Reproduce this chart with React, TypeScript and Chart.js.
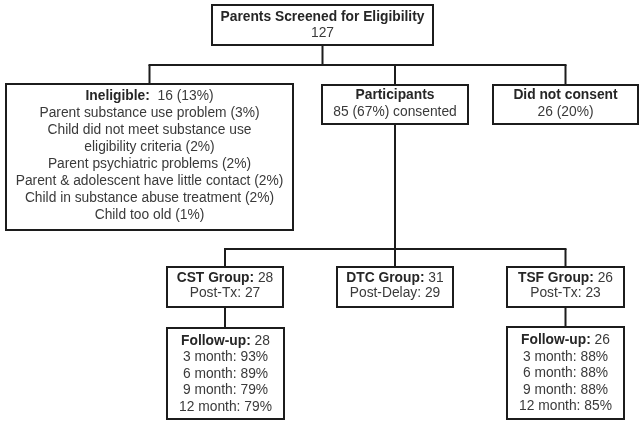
import React, { useEffect, useRef } from "react";
import { Chart, registerables } from "chart.js";

Chart.register(...registerables);

// ---------- data ----------
const screenedTotal = 127;
const ineligibleCount = 16;
const ineligiblePct = 13;
const ineligibleReasons = [
  "Parent substance use problem",
  "Child did not meet substance use\neligibility criteria",
  "Parent psychiatric problems",
  "Parent & adolescent have little contact",
  "Child in substance abuse treatment",
  "Child too old",
];
const ineligibleReasonPcts = [3, 2, 2, 2, 2, 1];
const participantsCount = 85;
const participantsPct = 67;
const notConsentCount = 26;
const notConsentPct = 20;
const groupNames = ["CST", "DTC", "TSF"];
const groupCounts = [28, 31, 26];
const postLabels = ["Post-Tx", "Post-Delay", "Post-Tx"];
const postCounts = [27, 29, 23];
const followMonths = [3, 6, 9, 12];
const cstFollowCount = 28;
const cstFollowPcts = [93, 89, 79, 79];
const tsfFollowCount = 26;
const tsfFollowPcts = [88, 88, 88, 85];

// ---------- layout (positions only) ----------
type Seg = { t: string; b?: boolean };
type Node = { id: string; x: number; y: number; w: number; h: number; dy: number; lh: number; lines: Seg[][] };

const LINE_COLOR = "#1c1c1c";
const TEXT_COLOR = "#3a3a3a";
const BOLD_COLOR = "#262626";
const FONT_SIZE = 13.8;
const FAMILY = "'Liberation Sans', Arial, Helvetica, sans-serif";

const reasonLines: Seg[][] = [];
ineligibleReasons.forEach((r, i) => {
  const parts = r.split("\n");
  parts.forEach((p, j) => {
    reasonLines.push([{ t: j === parts.length - 1 ? `${p} (${ineligibleReasonPcts[i]}%)` : p }]);
  });
});

const followLines = (n: number, pcts: number[]): Seg[][] => [
  [{ t: "Follow-up:", b: true }, { t: ` ${n}` }],
  ...pcts.map((p, i) => [{ t: `${followMonths[i]} month: ${p}%` }]),
];

const groupBoxX = [167, 337, 507];
const groupBoxW = [116, 116, 117];

const nodes: Node[] = [
  { id: "top", x: 212, y: 5, w: 221, h: 40, dy: 0, lh: 16, lines: [[{ t: "Parents Screened for Eligibility", b: true }], [{ t: `${screenedTotal}` }]] },
  { id: "inel", x: 6, y: 84, w: 287, h: 146, dy: -1.5, lh: 17, lines: [[{ t: "Ineligible:", b: true }, { t: `  ${ineligibleCount} (${ineligiblePct}%)` }], ...reasonLines] },
  { id: "part", x: 322, y: 85, w: 146, h: 39, dy: -1, lh: 17, lines: [[{ t: "Participants", b: true }], [{ t: `${participantsCount} (${participantsPct}%) consented` }]] },
  { id: "dnc", x: 493, y: 85, w: 145, h: 39, dy: -1, lh: 17, lines: [[{ t: "Did not consent", b: true }], [{ t: `${notConsentCount} (${notConsentPct}%)` }]] },
  ...groupNames.map((g, i) => ({
    id: g,
    x: groupBoxX[i], y: 267, w: groupBoxW[i], h: 40, dy: -1.5, lh: 15.5,
    lines: [[{ t: `${g} Group:`, b: true }, { t: ` ${groupCounts[i]}` }], [{ t: `${postLabels[i]}: ${postCounts[i]}` }]],
  })),
  { id: "cstF", x: 167, y: 328, w: 117, h: 91, dy: 0.5, lh: 16.5, lines: followLines(cstFollowCount, cstFollowPcts) },
  { id: "tsfF", x: 507, y: 327, w: 117, h: 92, dy: 0.5, lh: 16.5, lines: followLines(tsfFollowCount, tsfFollowPcts) },
];

const edges: { from: string; to: string[]; bus: number }[] = [
  { from: "top", to: ["inel", "part", "dnc"], bus: 65 },
  { from: "part", to: ["CST", "DTC", "TSF"], bus: 249 },
  { from: "CST", to: ["cstF"], bus: -1 },
  { from: "TSF", to: ["tsfF"], bus: -1 },
];

const byId = (id: string) => nodes.find((n) => n.id === id)!;
const cx = (n: Node) => n.x + n.w / 2;

function buildSegments(): { x: number; y: number }[][] {
  const segs: { x: number; y: number }[][] = [];
  edges.forEach((e) => {
    const p = byId(e.from);
    const kids = e.to.map(byId);
    if (e.bus < 0) {
      const k = kids[0];
      segs.push([{ x: cx(p), y: p.y + p.h }, { x: cx(p), y: k.y }]);
      return;
    }
    segs.push([{ x: cx(p), y: p.y + p.h }, { x: cx(p), y: e.bus }]);
    const xs = kids.map(cx);
    segs.push([{ x: Math.min(...xs) - 1, y: e.bus }, { x: Math.max(...xs) + 1, y: e.bus }]);
    kids.forEach((k) => segs.push([{ x: cx(k), y: e.bus }, { x: cx(k), y: k.y }]));
  });
  return segs;
}

const fontFor = (b?: boolean) => `${b ? "bold " : ""}${FONT_SIZE}px ${FAMILY}`;

const boxPlugin = {
  id: "flowBoxes",
  afterDatasetsDraw(chart: any) {
    const { ctx, scales } = chart;
    const xs = scales.x;
    const ys = scales.y;
    ctx.save();
    nodes.forEach((n) => {
      const x0 = xs.getPixelForValue(n.x);
      const x1 = xs.getPixelForValue(n.x + n.w);
      const y0 = ys.getPixelForValue(n.y);
      const y1 = ys.getPixelForValue(n.y + n.h);
      ctx.fillStyle = "#ffffff";
      ctx.fillRect(x0, y0, x1 - x0, y1 - y0);
      ctx.strokeStyle = LINE_COLOR;
      ctx.lineWidth = 2;
      ctx.strokeRect(x0, y0, x1 - x0, y1 - y0);
      const midX = (x0 + x1) / 2;
      const midY = (y0 + y1) / 2 + n.dy;
      const start = midY - ((n.lines.length - 1) * n.lh) / 2;
      ctx.textBaseline = "middle";
      ctx.textAlign = "left";
      n.lines.forEach((line, li) => {
        const widths = line.map((s) => {
          ctx.font = fontFor(s.b);
          return ctx.measureText(s.t).width;
        });
        const total = widths.reduce((a, b) => a + b, 0);
        let px = midX - total / 2;
        const py = start + li * n.lh;
        line.forEach((s, si) => {
          ctx.font = fontFor(s.b);
          ctx.fillStyle = s.b ? BOLD_COLOR : TEXT_COLOR;
          ctx.fillText(s.t, px, py);
          px += widths[si];
        });
      });
    });
    ctx.restore();
  },
};

const bgPlugin = {
  id: "bg",
  beforeDraw(chart: any) {
    const { ctx, width, height } = chart;
    ctx.save();
    ctx.fillStyle = "#ffffff";
    ctx.fillRect(0, 0, width, height);
    ctx.restore();
  },
};

export default function App() {
  const ref = useRef<HTMLCanvasElement | null>(null);
  useEffect(() => {
    if (!ref.current) return;
    const segs = buildSegments();
    const chart = new Chart(ref.current, {
      type: "scatter",
      data: {
        datasets: segs.map((s) => ({
          type: "line" as const,
          data: s,
          borderColor: LINE_COLOR,
          borderWidth: 2,
          pointRadius: 0,
          fill: false,
          tension: 0,
          clip: false as any,
        })),
      },
      options: {
        animation: false,
        responsive: false,
        devicePixelRatio: 1,
        events: [],
        layout: { padding: 0 },
        plugins: { legend: { display: false }, tooltip: { enabled: false }, title: { display: false } },
        scales: {
          x: { type: "linear", min: 0, max: 644, display: false },
          y: { type: "linear", min: 0, max: 426, reverse: true, display: false },
        },
      },
      plugins: [bgPlugin, boxPlugin],
    });
    return () => chart.destroy();
  }, []);
  return (
    <div style={{ position: "fixed", left: 0, top: 0, width: 644, height: 426, background: "#fff" }}>
      <canvas ref={ref} width={644} height={426} style={{ display: "block", width: 644, height: 426 }} />
    </div>
  );
}
